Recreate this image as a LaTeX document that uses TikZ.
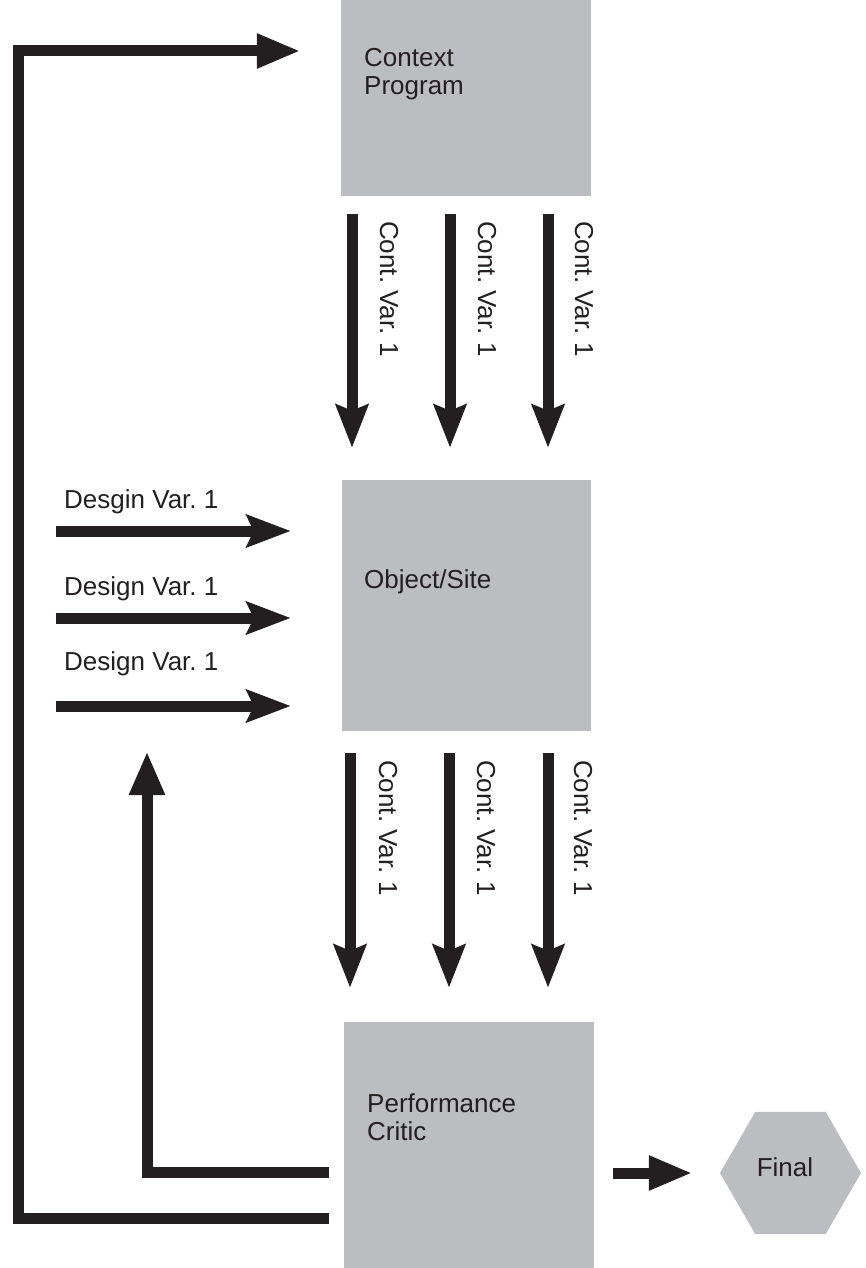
\documentclass[tikz,border=0pt]{standalone}
\usepackage{fontspec}
\setmainfont{Liberation Sans}
\usetikzlibrary{arrows.meta,shapes.geometric}

\definecolor{boxgray}{RGB}{188,189,193}
\definecolor{ink}{RGB}{35,31,32}

\tikzset{
  block/.style={fill=boxgray, draw=none, rectangle, inner sep=0pt},
  txt/.style={inner sep=0pt, text=ink, font=\fontsize{26}{30}\selectfont},
  flow/.style={draw=ink, line width=11pt, line cap=butt, line join=miter},
  tri/.style={flow, -{Triangle[length=44pt,width=32pt]}},
  stl/.style={flow, -{Stealth[length=43pt,width=32pt,inset=6pt]}},
}

\begin{document}
\frenchspacing
\begin{tikzpicture}[x=1pt, y=-1pt]
  \useasboundingbox (0,0) rectangle (866,1268);

  % process boxes
  \node[block, minimum width=250pt, minimum height=196pt] (ctx) at (466,98) {};
  \node[block, minimum width=249pt, minimum height=251pt] (obj) at (466.5,605.5) {};
  \node[block, minimum width=250pt, minimum height=246pt] (perf) at (469,1145) {};
  \node[regular polygon, regular polygon sides=6, fill=boxgray, inner sep=0pt,
        minimum size=141pt] (final) at (790.5,1173) {};

  % box captions
  \node[txt, anchor=base west] (ctxa) at (364,67) {Context};
  \node[txt, anchor=base west] (ctxb) at (364,95) {Program};
  \node[txt, anchor=base west] (objt) at (364,588) {Object/Site};
  \node[txt, anchor=base west] (perfa) at (367,1112) {Performance};
  \node[txt, anchor=base west] (perfb) at (367,1140) {Critic};
  \node[txt, anchor=base] (finalt) at (785,1176) {Final};

  % context variables: Context Program -> Object/Site
  \foreach \x/\t in {352/380, 450/478, 548/575} {
    \draw[stl, shorten <=18pt, shorten >=32pt] (ctx.south -| \x,0) -- (obj.north -| \x,0);
    \node[txt, rotate=-90, anchor=base west] at (\t,221) {Cont. Var. 1};
  }

  % context variables: Object/Site -> Performance Critic
  \foreach \x/\t in {350/379, 449/477, 548/574} {
    \draw[stl, shorten <=22pt, shorten >=34pt] (obj.south -| \x,0) -- (perf.north -| \x,0);
    \node[txt, rotate=-90, anchor=base west] at (\t,760) {Cont. Var. 1};
  }

  % design variables into Object/Site
  \coordinate (d1) at (56,531);
  \coordinate (d2) at (56,618);
  \coordinate (d3) at (56,706);
  \draw[flow, -{Stealth[length=44pt,width=32pt,inset=7pt]}, shorten >=51pt] (d1) -- (d1 -| obj.west);
  \draw[flow, -{Stealth[length=44pt,width=32pt,inset=7pt]}, shorten >=51pt] (d2) -- (d2 -| obj.west);
  \draw[flow, -{Stealth[length=44pt,width=32pt,inset=7pt]}, shorten >=51pt] (d3) -- (d3 -| obj.west);
  \node[txt, anchor=base west] (l1) at (64,508) {Desgin Var. 1};
  \node[txt, anchor=base west] (l2) at (64,595) {Design Var. 1};
  \node[txt, anchor=base west] (l3) at (64,670) {Design Var. 1};

  % feedback loops
  \coordinate (up) at (147,751);
  \draw[tri, -{Triangle[length=44pt,width=33pt]}, shorten <=15pt]
    (perf.west |- 0,1172) -- (147,1172) -- (up);
  \draw[tri, shorten <=15pt, shorten >=40pt]
    (perf.west |- 0,1218) -- (18,1218) -- (18,51) -- (ctx.west |- 0,51);

  % result
  \draw[tri, shorten <=19pt, shorten >=27pt] (perf.east |- final.west) -- (final.west);
\end{tikzpicture}
\end{document}
